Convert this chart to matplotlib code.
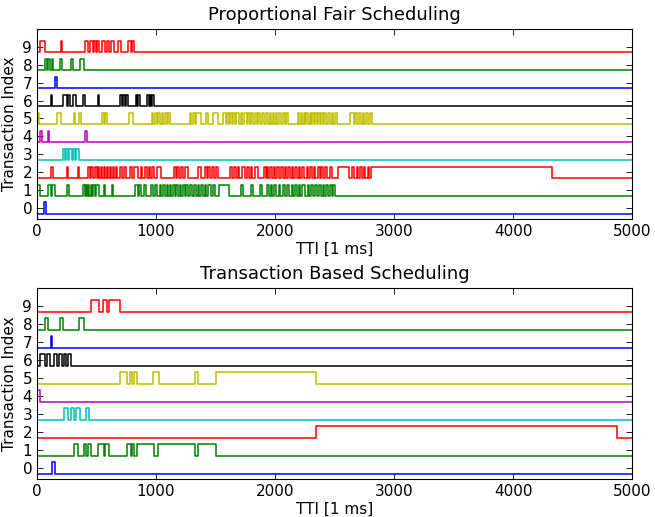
import matplotlib
matplotlib.use("Agg")
import matplotlib.pyplot as plt

T_END = 5000
colors = ['b', 'g', 'r', 'c', 'm', 'y', 'k', 'b', 'g', 'r']

# intervalos (inicio, fim) em TTI em que cada transacao esta ativa
pf_busy = [
    [(60, 75)],
    [(0, 25), (95, 115), (130, 150), (250, 265), (390, 402), (410, 420), (428, 440),
     (450, 462), (470, 485), (495, 518), (562, 575), (630, 642), (825, 845), (860, 875),
     (895, 915), (960, 975), (990, 1010), (1030, 1045), (1060, 1075), (1090, 1100),
     (1115, 1130), (1145, 1160), (1170, 1185), (1200, 1210), (1225, 1240), (1255, 1265),
     (1285, 1300), (1320, 1340), (1355, 1365), (1380, 1395), (1410, 1420), (1440, 1460),
     (1480, 1495), (1530, 1610), (1715, 1730), (1800, 1815), (1875, 1890), (1935, 1950),
     (1965, 1975), (1990, 2010), (2030, 2045), (2065, 2080), (2100, 2115), (2140, 2150),
     (2170, 2185), (2200, 2210), (2230, 2250), (2275, 2285), (2305, 2320), (2340, 2350),
     (2370, 2385), (2400, 2410), (2430, 2445), (2465, 2475), (2490, 2505)],
    [(120, 132), (252, 262), (345, 357), (430, 445), (455, 470), (490, 505), (515, 525),
     (540, 550), (560, 570), (590, 600), (615, 625), (640, 650), (665, 675), (700, 712),
     (730, 745), (785, 800), (815, 845), (870, 885), (910, 925), (940, 950), (970, 985),
     (1005, 1040), (1150, 1165), (1180, 1195), (1210, 1225), (1240, 1265), (1355, 1380),
     (1410, 1425), (1440, 1455), (1470, 1490), (1505, 1520), (1625, 1640), (1655, 1670),
     (1690, 1700), (1720, 1745), (1765, 1780), (1800, 1810), (1830, 1860), (1905, 1920),
     (1935, 1945), (1960, 1975), (1990, 2000), (2015, 2030), (2050, 2065), (2080, 2090),
     (2110, 2125), (2140, 2150), (2170, 2185), (2200, 2210), (2230, 2245), (2265, 2275),
     (2295, 2310), (2330, 2340), (2360, 2375), (2390, 2400), (2420, 2440), (2465, 2475),
     (2525, 2625), (2650, 2665), (2685, 2700), (2715, 2730), (2750, 2760), (2780, 2790),
     (2805, 4330)],
    [(215, 235), (245, 262), (272, 290), (300, 318), (328, 350)],
    [(25, 38), (90, 102), (405, 418)],
    [(5, 20), (167, 203), (308, 322), (350, 370), (550, 565), (572, 590), (772, 808),
     (963, 978), (990, 1005), (1018, 1035), (1048, 1062), (1075, 1090), (1100, 1120),
     (1282, 1298), (1310, 1325), (1340, 1380), (1420, 1437), (1478, 1522), (1565, 1585),
     (1595, 1610), (1620, 1640), (1650, 1665), (1675, 1700), (1710, 1725), (1740, 1765),
     (1775, 1790), (1800, 1815), (1830, 1850), (1860, 1875), (1890, 1905), (1920, 1940),
     (1955, 1965), (1980, 1995), (2005, 2020), (2035, 2050), (2065, 2080), (2095, 2105),
     (2190, 2205), (2215, 2230), (2240, 2250), (2262, 2278), (2290, 2300), (2312, 2325),
     (2338, 2350), (2362, 2375), (2388, 2400), (2412, 2430), (2445, 2460), (2475, 2490),
     (2500, 2520), (2630, 2660), (2675, 2690), (2705, 2720), (2735, 2750), (2765, 2780),
     (2795, 2815)],
    [(120, 130), (222, 250), (258, 280), (305, 330), (385, 400), (510, 520), (695, 712),
     (720, 740), (748, 762), (830, 842), (852, 868), (928, 942), (950, 962), (968, 980)],
    [(152, 172)],
    [(68, 82), (96, 110), (124, 138), (195, 209), (285, 302), (358, 392)],
    [(25, 68), (198, 208), (406, 426), (448, 469), (477, 497), (505, 525), (548, 568),
     (584, 607), (624, 647), (681, 703), (765, 788), (796, 816)],
]

tb_busy = [
    [(130, 147)],
    [(313, 344), (392, 415), (426, 454), (511, 562), (573, 604), (754, 788), (796, 816),
     (838, 985), (1019, 1324), (1352, 1502)],
    [(2345, 4875)],
    [(231, 260), (288, 313), (330, 359), (415, 435)],
    [(0, 25)],
    [(694, 759), (782, 802), (816, 844), (977, 1028), (1324, 1352), (1507, 2345)],
    [(25, 68), (82, 110), (144, 172), (181, 209), (223, 246), (257, 288)],
    [(116, 130)],
    [(68, 96), (195, 217), (350, 392)],
    [(454, 519), (556, 584), (604, 694)],
]


def step_trace(intervals, idx, amp=0.32):
    # monta o sinal retangular (ativo/inativo) de uma transacao
    lo, hi = idx - amp, idx + amp
    xs, ys = [0], [lo]
    for s, e in intervals:
        xs += [s, s, e, e]
        ys += [lo, hi, hi, lo]
    xs.append(T_END)
    ys.append(lo)
    return xs, ys


def plot_panel(ax, busy, title):
    for i, iv in enumerate(busy):
        xs, ys = step_trace(iv, i)
        ax.plot(xs, ys, color=colors[i], linewidth=1.1)
    ax.set_xlim(0, T_END)
    ax.set_ylim(-0.6, 10)
    ax.set_yticks(range(10))
    ax.set_xticks(range(0, 5001, 1000))
    ax.tick_params(direction='in', top=True, right=True, length=4, width=0.6,
                   labelsize=11, pad=3.5)
    ax.set_xlabel("TTI [1 ms]", fontsize=11, labelpad=2)
    ax.set_ylabel("Transaction Index", fontsize=11, labelpad=4)
    ax.set_title(title, fontsize=13, pad=6)


fig = plt.figure(figsize=(6.55, 5.17), dpi=100)
ax1 = fig.add_axes([0.0565, 0.5764, 0.9085, 0.368])
ax2 = fig.add_axes([0.0565, 0.0735, 0.9085, 0.370])
plot_panel(ax1, pf_busy, "Proportional Fair Scheduling")
plot_panel(ax2, tb_busy, "Transaction Based Scheduling")
fig.savefig("out.png", dpi=100)
